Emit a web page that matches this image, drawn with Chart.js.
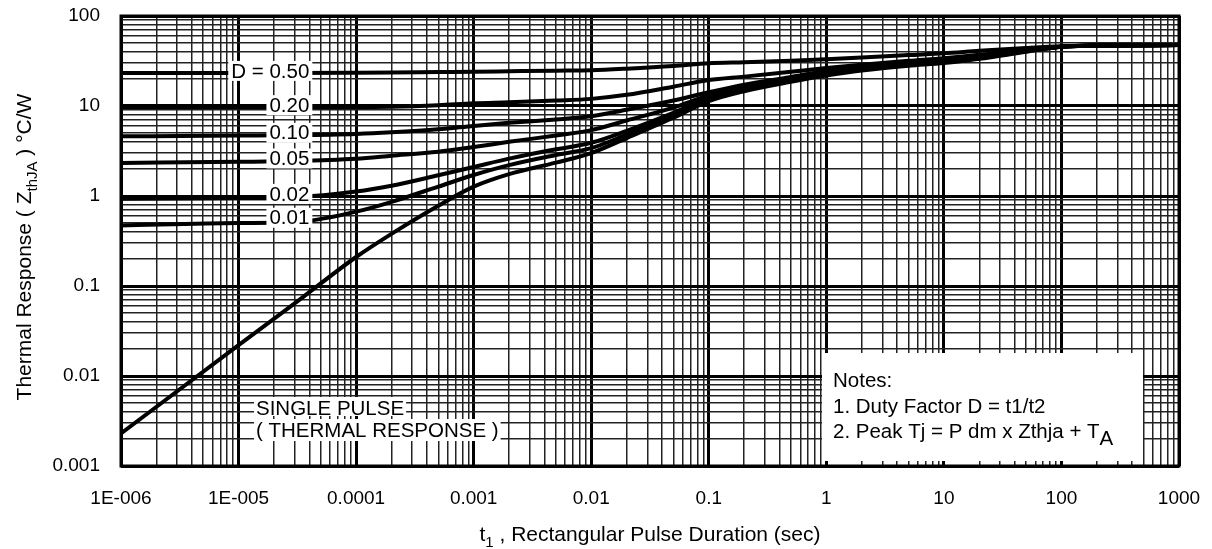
<!DOCTYPE html>
<html>
<head>
<meta charset="utf-8">
<script src="https://cdn.jsdelivr.net/npm/chart.js@4.4.1/dist/chart.umd.min.js"></script>
<style>
  html, body { margin: 0; padding: 0; background: #fff; }
  #wrap { width: 1212px; height: 549px; }
</style>
</head>
<body>
<div id="wrap"><canvas id="zthChart" width="1212" height="549"></canvas></div>
<script>
// pulse duration t1 (sec)
const pulseTimes = [1e-6, 1e-5, 3e-5, 1e-4, 2e-4, 5e-4, 1e-3, 2e-3, 5e-3, 1e-2, 2e-2, 5e-2, 0.1, 0.2, 0.5, 1, 2, 5, 10, 20, 50, 100, 200, 1000];

// thermal response ZthJA (°C/W) for each duty factor
const zD50 = [23.3, 23.3, 23.3, 23.4, 23.5, 23.8, 24, 24.3, 24.7, 25, 26, 27.8, 29.8, 30.6, 31.8, 33, 34.5, 36.8, 38.5, 41, 44, 46, 47, 47.5];
const zD20 = [9.7, 9.7, 9.7, 9.7, 9.8, 10.2, 10.7, 11, 11.5, 12, 13.3, 16.4, 19.4, 21.2, 24, 26.5, 28.8, 31.8, 34, 37, 42.5, 45.5, 47, 47.5];
const zD10 = [4.6, 4.7, 4.75, 4.9, 5.1, 5.5, 6.0, 6.5, 7.1, 7.7, 9.1, 11.5, 14.2, 17.2, 21, 24.5, 27.3, 30.5, 32.8, 36, 42, 45.5, 47, 47.5];
const zD05 = [2.33, 2.4, 2.45, 2.6, 2.8, 3.1, 3.5, 4.0, 4.7, 5.4, 6.9, 9.6, 13.1, 16.3, 20.3, 23.5, 26.5, 29.7, 32, 35.3, 41.5, 45.5, 47, 47.5];
const zD02 = [0.93, 0.95, 0.97, 1.12, 1.3, 1.7, 2.1, 2.6, 3.3, 3.9, 5.3, 8.4, 12.4, 15.5, 19.6, 23, 26, 29.2, 31.3, 34.6, 41, 45.5, 47, 47.5];
const zD01 = [0.47, 0.5, 0.51, 0.67, 0.86, 1.27, 1.71, 2.2, 2.85, 3.4, 4.8, 7.8, 12.0, 15.1, 19.1, 22.5, 25.5, 28.6, 30.6, 34, 40.5, 45.5, 47, 47.5];
const zSingle = [0.0023, 0.022, 0.064, 0.21, 0.38, 0.78, 1.27, 1.75, 2.35, 3.0, 4.4, 7.4, 11.3, 14.6, 18.6, 21.8, 24.8, 28, 30, 33.4, 40, 45.5, 47, 47.5];

const dutyLabels = ['D = 0.50', '0.20', '0.10', '0.05', '0.02', '0.01'];
const xTickLabels = ['1E-006', '1E-005', '0.0001', '0.001', '0.01', '0.1', '1', '10', '100', '1000'];
const yTickLabels = ['0.001', '0.01', '0.1', '1', '10', '100'];
const singleLabel = ['SINGLE PULSE', '( THERMAL RESPONSE )'];
const notesLines = ['Notes:', '1. Duty Factor D = t1/t2', '2. Peak Tj = P dm x Zthja + T'];

const X_MIN_EXP = -6, X_MAX_EXP = 3;
const Y_MIN_EXP = -3, Y_MAX_EXP = 2;
const FONT = '"Liberation Sans", Arial, Helvetica, sans-serif';

// 1..9 in every decade, used for the grid
function logTicks(minExp, maxExp) {
    const out = [];
    for (let e = minExp; e < maxExp; e++) {
        for (let m = 1; m < 10; m++) {
            out.push(Number((m * Math.pow(10, e)).toPrecision(2)));
        }
    }
    out.push(Math.pow(10, maxExp));
    return out;
}

function isDecade(v) {
    const l = Math.log10(v);
    return Math.abs(l - Math.round(l)) < 1e-9;
}

function toPoints(ys) {
    return pulseTimes.map((t, i) => ({ x: t, y: ys[i] }));
}

// value of a curve at t (log-log interpolation), only to place its label
function curveAt(ys, t) {
    for (let i = 0; i < pulseTimes.length - 1; i++) {
        if (t >= pulseTimes[i] && t <= pulseTimes[i + 1]) {
            const f = (Math.log10(t) - Math.log10(pulseTimes[i])) / (Math.log10(pulseTimes[i + 1]) - Math.log10(pulseTimes[i]));
            return Math.pow(10, Math.log10(ys[i]) + f * (Math.log10(ys[i + 1]) - Math.log10(ys[i])));
        }
    }
    return ys[ys.length - 1];
}

// draw text made of parts (for subscripts)
function drawRich(ctx, parts, x, y, align) {
    let w = 0;
    parts.forEach(p => {
        ctx.font = p.size + 'px ' + FONT;
        p.w = ctx.measureText(p.text).width;
        w += p.w;
    });
    let cx = align === 'center' ? x - w / 2 : x;
    parts.forEach(p => {
        ctx.font = p.size + 'px ' + FONT;
        ctx.fillText(p.text, cx, y + (p.dy || 0));
        cx += p.w;
    });
    return w;
}

const dutySeries = [zD50, zD20, zD10, zD05, zD02, zD01];

const annotationPlugin = {
    id: 'annotations',
    afterDatasetsDraw(chart) {
        const ctx = chart.ctx;
        const xs = chart.scales.x, ys = chart.scales.y;
        const area = chart.chartArea;
        ctx.save();
        ctx.textBaseline = 'middle';
        ctx.textAlign = 'right';
        ctx.font = '20.5px ' + FONT;

        // duty factor labels, right edge at t = 4e-5
        const labelT = 4e-5;
        const rx = xs.getPixelForValue(labelT);
        dutyLabels.forEach((txt, i) => {
            const cy = ys.getPixelForValue(curveAt(dutySeries[i], labelT)) - 2;
            const w = ctx.measureText(txt).width;
            ctx.fillStyle = '#fff';
            ctx.fillRect(rx - w - 3, cy - 10, w + 6, 20);
            ctx.fillStyle = '#000';
            ctx.fillText(txt, rx, cy + 1);
        });

        // single pulse label
        ctx.textAlign = 'left';
        ctx.textBaseline = 'alphabetic';
        const sx = area.left + 135;
        const sy = [area.top + 399, area.top + 421];
        singleLabel.forEach((txt, i) => {
            const w = ctx.measureText(txt).width;
            ctx.fillStyle = '#fff';
            ctx.fillRect(sx - 2, sy[i] - 18, w + 4, i === 0 ? 19 : 22);
            ctx.fillStyle = '#000';
            ctx.fillText(txt, sx, sy[i]);
        });

        // notes box
        const nx = area.left + 701, ny = area.top + 337;
        ctx.fillStyle = '#fff';
        ctx.fillRect(nx, ny, 321, 108);
        ctx.fillStyle = '#000';
        ctx.fillText(notesLines[0], nx + 11, ny + 34);
        ctx.fillText(notesLines[1], nx + 11, ny + 60);
        drawRich(ctx, [
            { text: notesLines[2], size: 20.5 },
            { text: 'A', size: 20.5, dy: 7 }
        ], nx + 11, ny + 85, 'left');

        // plot frame
        ctx.strokeStyle = '#000';
        ctx.lineWidth = 3;
        ctx.strokeRect(area.left, area.top, area.right - area.left, area.bottom - area.top);
        ctx.restore();
    },
    afterDraw(chart) {
        const ctx = chart.ctx;
        const area = chart.chartArea;
        ctx.save();
        ctx.fillStyle = '#000';
        ctx.textBaseline = 'alphabetic';
        // x title
        drawRich(ctx, [
            { text: 't', size: 21 },
            { text: '1', size: 15, dy: 6 },
            { text: ' , Rectangular Pulse Duration (sec)', size: 21 }
        ], (area.left + area.right) / 2, 541, 'center');
        // y title
        ctx.translate(31, (area.top + area.bottom) / 2 + 6);
        ctx.rotate(-Math.PI / 2);
        drawRich(ctx, [
            { text: 'Thermal Response ( Z', size: 21 },
            { text: 'thJA', size: 15, dy: 6 },
            { text: ' ) \u00B0C/W', size: 21 }
        ], 0, 0, 'center');
        ctx.restore();
    }
};

function makeDataset(label, ys) {
    return {
        label: label,
        data: toPoints(ys),
        borderColor: '#000',
        borderWidth: 4,
        pointRadius: 0,
        fill: false,
        cubicInterpolationMode: 'monotone',
        borderJoinStyle: 'round'
    };
}

const gridWidth = (ctx) => (ctx.tick && isDecade(ctx.tick.value) ? 3 : 1.5);
const gridColor = (ctx) => (ctx.tick && isDecade(ctx.tick.value) ? '#000' : '#222');

// keep the plot box where the reference has it (no label overhang padding)
function noPadding(scale) {
    scale.paddingTop = 0;
    scale.paddingBottom = 0;
    scale.paddingLeft = 0;
    scale.paddingRight = 0;
}

const zthChart = new Chart(document.getElementById('zthChart').getContext('2d'), {
    type: 'line',
    data: {
        datasets: [
            makeDataset('D = 0.50', zD50),
            makeDataset('D = 0.20', zD20),
            makeDataset('D = 0.10', zD10),
            makeDataset('D = 0.05', zD05),
            makeDataset('D = 0.02', zD02),
            makeDataset('D = 0.01', zD01),
            makeDataset('Single pulse', zSingle)
        ]
    },
    options: {
        responsive: false,
        animation: false,
        layout: { padding: { top: 16, right: 33, left: 0, bottom: 0 } },
        plugins: {
            legend: { display: false },
            tooltip: { enabled: false }
        },
        scales: {
            x: {
                type: 'logarithmic',
                min: Math.pow(10, X_MIN_EXP),
                max: Math.pow(10, X_MAX_EXP),
                afterBuildTicks: (scale) => {
                    scale.ticks = logTicks(X_MIN_EXP, X_MAX_EXP).map(v => ({ value: v }));
                },
                afterFit: (scale) => { scale.height = 83; noPadding(scale); },
                grid: { color: gridColor, lineWidth: gridWidth, drawTicks: false },
                border: { display: false },
                ticks: {
                    autoSkip: false,
                    maxRotation: 0,
                    padding: 21,
                    color: '#000',
                    font: { family: FONT, size: 19 },
                    callback: (value) => isDecade(value) ? xTickLabels[Math.round(Math.log10(value)) - X_MIN_EXP] : ''
                }
            },
            y: {
                type: 'logarithmic',
                min: Math.pow(10, Y_MIN_EXP),
                max: Math.pow(10, Y_MAX_EXP),
                afterBuildTicks: (scale) => {
                    scale.ticks = logTicks(Y_MIN_EXP, Y_MAX_EXP).map(v => ({ value: v }));
                },
                afterFit: (scale) => { scale.width = 121; noPadding(scale); },
                grid: { color: gridColor, lineWidth: gridWidth, drawTicks: false },
                border: { display: false },
                ticks: {
                    autoSkip: false,
                    padding: 21,
                    color: '#000',
                    font: { family: FONT, size: 19 },
                    callback: (value) => isDecade(value) ? yTickLabels[Math.round(Math.log10(value)) - Y_MIN_EXP] : ''
                }
            }
        }
    },
    plugins: [annotationPlugin]
});
</script>
</body>
</html>
